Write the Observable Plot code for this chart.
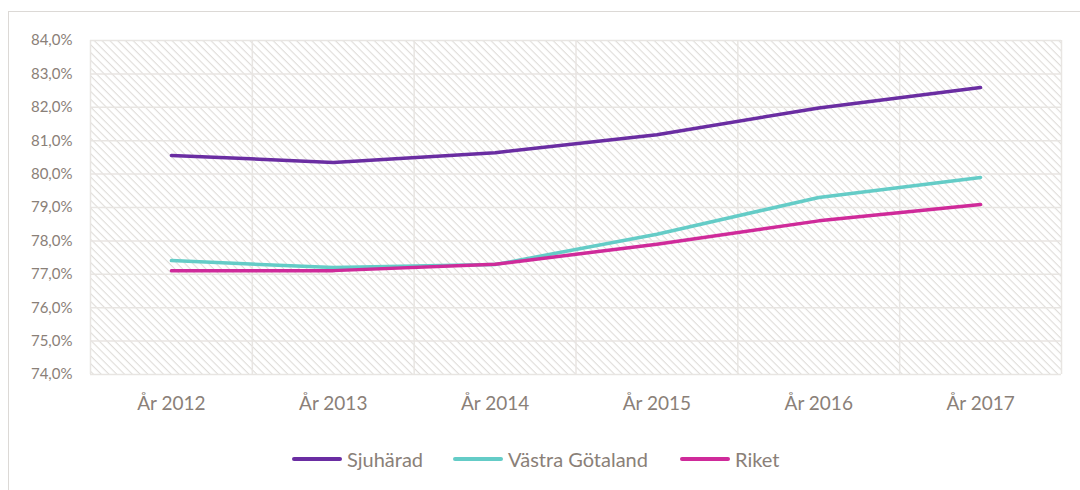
<!DOCTYPE html>
<html>
<head>
<meta charset="utf-8">
<script src="https://cdn.jsdelivr.net/npm/d3@7"></script>
<script src="https://cdn.jsdelivr.net/npm/@observablehq/plot@0.6"></script>
<style>
  html, body { margin: 0; padding: 0; background: #fff; width: 1080px; height: 490px; overflow: hidden; }
  #frame { position: absolute; left: 8px; top: 11px; width: 1100px; height: 500px; border-left: 1.5px solid #dcd9d6; border-top: 1.5px solid #dcd9d6; }
  #chart { position: absolute; left: 0; top: 0; }
  #legend { position: absolute; left: 0; top: 443px; width: 1080px; height: 32px; font-family: Lato, "Open Sans", sans-serif; font-size: 20px; color: #8a8078; }
  .item { position: absolute; top: 0; display: flex; align-items: center; height: 32px; }
  .swatch { width: 50px; height: 4px; border-radius: 2px; margin-right: 5px; }
</style>
</head>
<body>
<div id="frame"></div>
<div id="chart"></div>
<div id="legend"></div>
<script>
const years = [2012, 2013, 2014, 2015, 2016, 2017];
const seriesNames = ["Sjuhärad", "Västra Götaland", "Riket"];
const sjuharad = [80.56, 80.35, 80.64, 81.18, 81.98, 82.59];
const vastraGotaland = [77.41, 77.2, 77.29, 78.2, 79.3, 79.9];
const riket = [77.11, 77.11, 77.3, 77.9, 78.6, 79.09];
const colors = ["#6a2da2", "#64ccc7", "#cf2a9a"];
const yTicks = [74, 75, 76, 77, 78, 79, 80, 81, 82, 83, 84];
const yearBoundaries = [2011.5, 2012.5, 2013.5, 2014.5, 2015.5, 2016.5, 2017.5];

const values = [sjuharad, vastraGotaland, riket];
const data = [];
seriesNames.forEach((s, i) => years.forEach((yr, j) => data.push({series: s, year: yr, value: values[i][j]})));

const textColor = "#8a8078";
const gridColor = "#e8e5e2";

const svg = Plot.plot({
  width: 1080,
  height: 430,
  marginLeft: 90,
  marginRight: 19,
  marginTop: 40,
  marginBottom: 56,
  style: { fontFamily: "Lato, 'Open Sans', sans-serif", color: textColor, background: "transparent", overflow: "visible" },
  x: { domain: [2011.5, 2017.5], ticks: years, tickFormat: d => "År " + d, tickSize: 0, tickPadding: 22, label: null },
  y: { domain: [74, 84], ticks: yTicks, tickFormat: d => d.toFixed(1).replace(".", ",") + "%", tickSize: 0, tickPadding: 18, label: null },
  color: { domain: seriesNames, range: colors },
  marks: [
    Plot.frame({ fill: "url(#hatch)", stroke: null }),
    Plot.ruleY(yTicks, { stroke: gridColor, strokeWidth: 1.5 }),
    Plot.ruleX(yearBoundaries, { stroke: gridColor, strokeWidth: 1.5 }),
    Plot.line(data, { x: "year", y: "value", z: "series", stroke: "series", strokeWidth: 3.5, curve: "linear", strokeLinecap: "round", strokeLinejoin: "round" })
  ]
});

// hatch pattern definition
const defs = d3.select(svg).insert("defs", ":first-child");
const pat = defs.append("pattern")
  .attr("id", "hatch")
  .attr("patternUnits", "userSpaceOnUse")
  .attr("width", 5.5)
  .attr("height", 5.5)
  .attr("patternTransform", "rotate(45)");
pat.append("rect").attr("width", 5.5).attr("height", 5.5).attr("fill", "#ffffff");
pat.append("line").attr("x1", 0).attr("y1", 0).attr("x2", 5.5).attr("y2", 0)
  .attr("stroke", "#dfdcd9").attr("stroke-width", 2.2);

d3.select(svg).selectAll("g[aria-label='x-axis tick label']").attr("font-size", 19);
d3.select(svg).selectAll("g[aria-label='y-axis tick label']").attr("font-size", 15);

document.getElementById("chart").appendChild(svg);

const legend = document.getElementById("legend");
const positions = [292, 453, 680];
seriesNames.forEach((s, i) => {
  const item = document.createElement("div");
  item.className = "item";
  item.style.left = positions[i] + "px";
  const sw = document.createElement("div");
  sw.className = "swatch";
  sw.style.background = colors[i];
  const label = document.createElement("span");
  label.textContent = s;
  item.appendChild(sw);
  item.appendChild(label);
  legend.appendChild(item);
});
</script>
</body>
</html>
